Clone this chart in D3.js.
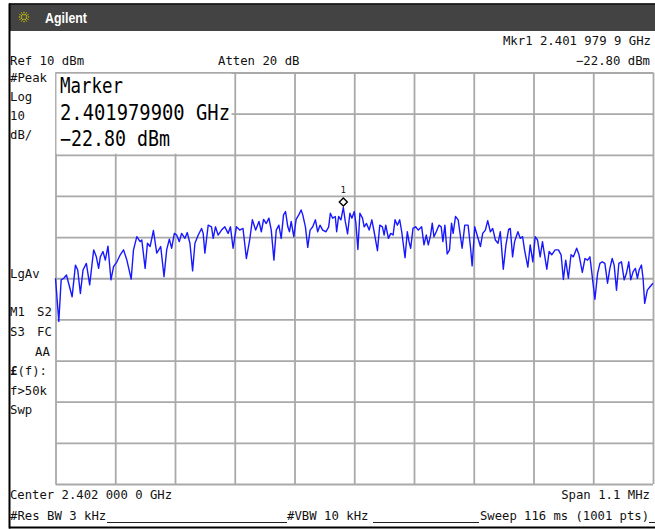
<!DOCTYPE html>
<html>
<head>
<meta charset="utf-8">
<script src="https://cdn.jsdelivr.net/npm/d3@7"></script>
<style>
  html, body { margin: 0; padding: 0; background: #fff; }
  svg { display: block; }
  text { font-family: "DejaVu Sans Mono", "Liberation Mono", monospace; fill: #111; }
</style>
</head>
<body>
<svg id="chart" width="655" height="529"></svg>
<script>
// Spectrum trace: frequency offset from centre (kHz) and level (dBm)
const freqKHz = [
  -550.0,-543.9,-539.6,-534.7,-529.8,-519.4,-513.3,-509.1,-504.2,-499.3,-493.2,-487.1,-479.7,-474.8,-470.6,-467.5,
  -462.6,-458.3,-453.4,-447.9,-443.1,-436.9,-430.8,-424.7,-418.6,-410.7,-406.4,-400.3,-394.2,-391.1,-385.0,-380.7,
  -375.8,-369.7,-363.6,-356.3,-350.2,-345.3,-340.4,-336.1,-331.2,-327.0,-322.1,-317.8,-311.7,-307.4,-302.5,-297.6,
  -293.3,-287.2,-281.1,-278.1,-275.0,-268.9,-262.8,-259.7,-255.5,-250.6,-244.4,-238.3,-232.2,-227.9,
  -223.1,-217.0,-210.9,-204.8,-198.6,-192.5,-187.6,-181.5,-175.4,-171.1,-166.9,-162.0,-157.1,-152.8,-147.9,-143.6,
  -138.8,-134.5,-130.2,-126.5,-122.3,-119.2,-116.1,-111.3,-107.0,-102.1,-97.8,-94.8,-89.9,-85.6,-81.3,-76.4,
  -71.5,-67.3,-63.0,-58.1,-52.0,-47.1,-44.0,-39.8,-34.9,-32.4,-28.8,-24.5,-20.1,-16.5,-12.3,-8.0,
  -4.3,0.0,3.0,6.7,10.4,15.2,18.3,22.6,27.5,32.4,36.6,42.7,47.0,51.9,55.0,58.0,
  62.9,67.2,71.5,75.1,79.4,83.7,87.4,93.5,97.7,100.8,103.9,108.1,113.0,117.9,
  124.1,128.4,132.6,136.3,140.6,143.6,146.7,151.0,155.9,160.1,163.2,166.9,171.1,175.4,179.1,182.1,
  186.4,191.3,195.6,198.6,203.5,209.6,213.9,217.0,221.9,226.1,232.3,236.5,241.4,245.7,250.6,254.9,
  259.8,264.6,268.9,274.4,279.3,284.2,287.3,291.5,295.2,301.3,305.6,309.9,313.5,319.6,323.9,328.8,
  333.1,337.4,342.3,346.5,354.5,358.8,363.6,369.8,375.9,380.8,385.0,389.3,394.2,399.1,403.4,409.5,
  413.8,419.9,424.8,429.6,433.9,443.1,448.0,452.3,456.5,461.4,466.3,470.6,474.9,478.5,482.8,487.1,
  492.0,496.9,501.1,505.4,509.1,513.4,517.6,521.3,524.4,528.7,531.7,534.7,539.6,544.9,550.0
];
const levelDbm = [
  -40.0,-50.5,-40.4,-40.0,-39.2,-44.5,-36.8,-38.0,-43.7,-38.0,-36.4,-41.6,-33.1,-34.8,-37.6,-34.8,
  -33.5,-35.6,-32.2,-40.4,-37.2,-36.0,-34.3,-33.1,-35.6,-40.2,-33.1,-29.9,-31.1,-30.7,-37.6,-31.5,
  -32.3,-28.4,-33.9,-32.3,-39.6,-33.1,-30.5,-32.7,-29.1,-29.5,-31.1,-29.1,-30.3,-28.9,-31.5,-38.2,
  -31.5,-29.5,-27.9,-29.1,-33.9,-27.1,-27.5,-30.3,-27.5,-29.5,-28.3,-27.5,-29.1,-27.5,
  -32.7,-27.5,-28.3,-27.9,-35.2,-30.7,-25.8,-28.3,-26.2,-28.7,-25.7,-26.7,-25.4,-28.3,-35.6,-28.3,
  -27.1,-30.3,-24.6,-23.8,-27.5,-28.7,-26.2,-29.9,-25.7,-24.6,-23.4,-24.6,-27.5,-32.5,-28.3,-27.5,
  -25.8,-28.7,-27.1,-28.3,-28.7,-27.5,-24.2,-25.4,-25.0,-28.7,-25.0,-25.8,-22.8,-26.2,-29.2,-24.2,
  -25.4,-23.8,-26.6,-33.0,-24.2,-25.4,-27.5,-26.7,-28.3,-25.8,-28.7,-33.3,-27.1,-27.5,-29.5,-27.1,
  -30.3,-29.1,-29.5,-25.8,-27.1,-25.8,-28.7,-35.0,-28.7,-31.1,-32.7,-27.9,-27.5,-28.3,
  -27.5,-31.9,-29.5,-31.9,-29.5,-26.6,-29.9,-28.7,-27.1,-27.5,-31.1,-27.1,-34.1,-33.1,-26.6,-29.1,
  -25.0,-25.8,-29.9,-32.7,-27.1,-27.1,-32.3,-37.0,-27.5,-29.5,-32.3,-29.1,-28.3,-26.0,-28.7,-27.9,
  -30.7,-31.5,-28.7,-37.8,-31.9,-28.1,-27.9,-34.8,-31.1,-28.7,-30.3,-29.9,-33.1,-37.3,-31.9,-36.0,
  -29.9,-30.7,-34.8,-31.1,-37.8,-33.5,-34.3,-33.1,-33.1,-34.3,-40.3,-35.6,-40.0,-34.3,-34.8,-32.7,
  -34.3,-38.6,-35.2,-35.6,-34.8,-45.1,-38.8,-36.4,-36.0,-36.4,-41.2,-37.6,-35.2,-36.8,-42.9,-36.4,
  -36.0,-40.4,-38.8,-36.0,-40.4,-38.4,-37.6,-40.0,-38.0,-36.8,-40.0,-46.1,-42.9,-42.0,-41.2
];

// Graticule divisions: 10 x 110 kHz horizontally, 10 x 10 dB vertically
const freqTicksKHz = d3.range(-550, 551, 110);
const levelTicksDbm = d3.range(10, -91, -10);

// Marker 1
const markerFreqKHz = -20.1;
const markerLevelDbm = -22.8;

// Instrument annotations
const markerReadout = ["Marker", "2.401979900 GHz", "\u221222.80 dBm"];
const headerLeft = ["Ref 10 dBm", "Atten 20 dB"];
const headerRight = ["Mkr1 2.401 979 9 GHz", "\u221222.80 dBm"];
const sideLabels = ["#Peak", "Log", "10", "dB/", "LgAv"];
const footer = ["Center 2.402 000 0 GHz", "Span 1.1 MHz", "#Res BW 3 kHz", "#VBW 10 kHz", "Sweep 116 ms (1001 pts)"];

const svg = d3.select("#chart");
const plot = { left: 55.5, right: 653, top: 72.5, bottom: 484 };

const x = d3.scaleLinear().domain([-550, 550]).range([plot.left, plot.right]);
const y = d3.scaleLinear().domain([10, -90]).range([plot.top, plot.bottom]);

// Outer instrument frame and title bar
svg.append("rect").attr("x", 9).attr("y", 3.5).attr("width", 646).attr("height", 27.5).attr("fill", "#434343");
svg.append("line").attr("x1", 9).attr("x2", 655).attr("y1", 4).attr("y2", 4).attr("stroke", "#111").attr("stroke-width", 1.5);
svg.append("line").attr("x1", 9.5).attr("x2", 9.5).attr("y1", 3.5).attr("y2", 528.5).attr("stroke", "#000").attr("stroke-width", 2);
svg.append("line").attr("x1", 9).attr("x2", 655).attr("y1", 527.5).attr("y2", 527.5).attr("stroke", "#000").attr("stroke-width", 2);

// Starburst logo
const logo = svg.append("g").attr("transform", "translate(24,17)");
d3.range(12).forEach(i => {
  const a = i * Math.PI / 6;
  logo.append("line")
    .attr("x1", Math.cos(a) * 2).attr("y1", Math.sin(a) * 2)
    .attr("x2", Math.cos(a) * 6).attr("y2", Math.sin(a) * 6)
    .attr("stroke", "#e8e000").attr("stroke-width", 1).attr("stroke-dasharray", "1.2,0.8");
});
svg.append("text").attr("x", 45).attr("y", 23)
  .style("font-family", "'Liberation Sans', Arial, sans-serif")
  .style("font-weight", "bold").style("font-size", "14.5px").style("fill", "#fff")
  .attr("textLength", 42).attr("lengthAdjust", "spacingAndGlyphs")
  .text("Agilent");

// Graticule drawn with D3 axes
const gridStyle = g => {
  g.select(".domain").remove();
  g.selectAll("line").attr("stroke", "#a9a9a9").attr("stroke-width", 1.8);
  g.selectAll("text").remove();
};
svg.append("g")
  .attr("transform", `translate(0,${plot.bottom})`)
  .call(d3.axisBottom(x).tickValues(freqTicksKHz).tickSize(-(plot.bottom - plot.top)).tickFormat(""))
  .call(gridStyle);
svg.append("g")
  .attr("transform", `translate(${plot.left},0)`)
  .call(d3.axisLeft(y).tickValues(levelTicksDbm).tickSize(-(plot.right - plot.left)).tickFormat(""))
  .call(gridStyle);

// Marker readout box
svg.append("rect").attr("x", plot.left + 1).attr("y", plot.top + 1.2)
  .attr("width", 175).attr("height", 80).attr("fill", "#fff");
const readoutLayout = [[93, 63], [120, 170], [146, 110]];
markerReadout.forEach((t, i) => {
  svg.append("text").attr("x", 60).attr("y", readoutLayout[i][0])
    .style("font-size", "20.5px").style("fill", "#000")
    .attr("textLength", readoutLayout[i][1]).attr("lengthAdjust", "spacingAndGlyphs")
    .text(t);
});

// Trace
const trace = d3.zip(freqKHz, levelDbm);
svg.append("path")
  .datum(trace)
  .attr("fill", "none")
  .attr("stroke", "#1818ff")
  .attr("stroke-width", 1.4)
  .attr("stroke-linejoin", "round")
  .attr("d", d3.line().x(d => x(d[0])).y(d => y(d[1])));

// Marker symbol
const mx = x(markerFreqKHz), my = y(markerLevelDbm) - 5.5;
svg.append("path")
  .attr("d", `M${mx},${my - 4}L${mx + 4},${my}L${mx},${my + 4}L${mx - 4},${my}Z`)
  .attr("fill", "#fff").attr("stroke", "#000").attr("stroke-width", 1.4);
svg.append("text").attr("x", mx).attr("y", my - 8.5).attr("text-anchor", "middle")
  .style("font-size", "9px").text("1");

// Header annotations
const small = "12.3px";
svg.append("text").attr("x", 10).attr("y", 65).style("font-size", small).text(headerLeft[0]);
svg.append("text").attr("x", 218).attr("y", 65).style("font-size", small).text(headerLeft[1]);
svg.append("text").attr("x", 651).attr("y", 44.5).attr("text-anchor", "end").style("font-size", small).text(headerRight[0]);
svg.append("text").attr("x", 650).attr("y", 64.5).attr("text-anchor", "end").style("font-size", small).text(headerRight[1]);

// Left-side status column
const sideY = [82, 101, 120, 139, 278];
sideLabels.forEach((t, i) => {
  svg.append("text").attr("x", 10).attr("y", sideY[i]).style("font-size", small).text(t);
});
const statusRows = [
  { y: 316, parts: [[10, "M1"], [37, "S2"]] },
  { y: 336, parts: [[10, "S3"], [37, "FC"]] },
  { y: 356, parts: [[35, "AA"]] },
  { y: 395, parts: [[10, "f>50k"]] },
  { y: 414, parts: [[10, "Swp"]] }
];
statusRows.forEach(r => r.parts.forEach(p => {
  svg.append("text").attr("x", p[0]).attr("y", r.y).style("font-size", small).text(p[1]);
}));
const fl = svg.append("text").attr("x", 10).attr("y", 375).style("font-size", small);
fl.append("tspan").style("font-weight", "bold").text("\u00a3");
fl.append("tspan").text("(f):");

// Footer annotations
svg.append("text").attr("x", 10).attr("y", 499).style("font-size", small)
  .attr("textLength", 162).attr("lengthAdjust", "spacingAndGlyphs").text(footer[0]);
svg.append("text").attr("x", 650).attr("y", 499).attr("text-anchor", "end").style("font-size", small).text(footer[1]);
svg.append("text").attr("x", 10).attr("y", 520).style("font-size", small).text(footer[2]);
svg.append("text").attr("x", 287).attr("y", 520).style("font-size", small).text(footer[3]);
svg.append("text").attr("x", 649).attr("y", 520).attr("text-anchor", "end").style("font-size", small)
  .attr("textLength", 169).attr("lengthAdjust", "spacingAndGlyphs").text(footer[4]);
[[107, 287], [373, 479], [649, 655]].forEach(s => {
  svg.append("line").attr("x1", s[0]).attr("x2", s[1]).attr("y1", 522.5).attr("y2", 522.5)
    .attr("stroke", "#222").attr("stroke-width", 1);
});
</script>
</body>
</html>
